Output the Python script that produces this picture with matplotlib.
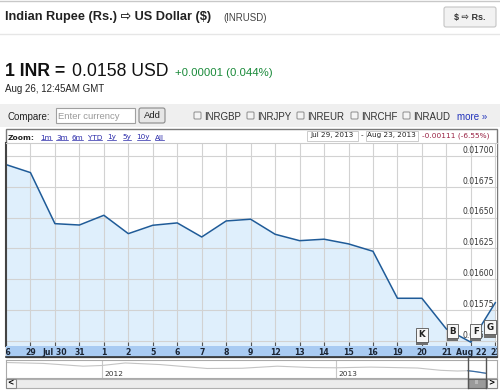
import numpy as np
import matplotlib
matplotlib.use('Agg')
import matplotlib.pyplot as plt
from matplotlib.patches import Rectangle, FancyBboxPatch
from matplotlib import patheffects

# INR -> USD daily closes, Jul 26 .. Aug 23 2013
dates = ['26', '29', 'Jul 30', '31', '1', '2', '5', '6', '7', '8', '9',
         '12', '13', '14', '15', '16', '19', '20', '21', 'Aug 22', '23']
rates = [0.01693, 0.016865, 0.016451, 0.01644, 0.016519, 0.01637, 0.016438,
         0.016457, 0.016343, 0.016473, 0.016487, 0.016365, 0.016313, 0.016325,
         0.016287, 0.016227, 0.015846, 0.015846, 0.015597, 0.01549, 0.01581]
yticks = [0.0155, 0.01575, 0.016, 0.01625, 0.0165, 0.01675, 0.017]

# news flags
flag_letters = ['K', 'B', 'F', 'G']
flag_x = [17.0, 18.25, 19.2, 19.8]
flag_y = [0.01555, 0.01558, 0.01558, 0.01561]

# long range navigator (rough)
nav_years = [2011.59, 2011.75, 2011.92, 2012.0, 2012.1, 2012.25, 2012.45, 2012.6,
             2012.75, 2012.9, 2013.0, 2013.15, 2013.35, 2013.45, 2013.52, 2013.566,
             2013.60, 2013.643]
nav_rates = [0.0205, 0.0201, 0.0189, 0.0192, 0.0203, 0.0196, 0.0179, 0.0180,
             0.0189, 0.0183, 0.0182, 0.0185, 0.0181, 0.0171, 0.0168, 0.01693,
             0.0165, 0.01581]

compare_syms = ['INRGBP', 'INRJPY', 'INREUR', 'INRCHF', 'INRAUD']
zoom_links = ['1m', '3m', '6m', 'YTD', '1y', '5y', '10y', 'All']

W, H = 500, 391
fig = plt.figure(figsize=(W / 100, H / 100), dpi=100)
fig.patch.set_facecolor('white')

PAGE = ['Liberation Sans', 'DejaVu Sans']
CH = 'DejaVu Sans'

# page chrome, drawn in pixel coords
bg = fig.add_axes([0, 0, 1, 1])
bg.set_xlim(0, W)
bg.set_ylim(H, 0)
bg.axis('off')

bg.plot([0, W], [0.5, 0.5], color='#c8c8c8', lw=1)
bg.text(5, 17, 'Indian Rupee (Rs.) \u21e8 US Dollar ($)', family=PAGE, fontsize=9.2,
        weight='bold', color='#222222', va='center')
bg.text(223, 18, '(INRUSD)', family=PAGE, fontsize=7, color='#444444', va='center')
bg.add_patch(FancyBboxPatch((444, 7), 52, 20, boxstyle='round,pad=0,rounding_size=2',
                            fc='#f2f2f2', ec='#c4c4c4', lw=0.8))
bg.text(470, 17.5, '$ \u21e8 Rs.', family=PAGE, fontsize=6.5, weight='bold',
        color='#333333', ha='center', va='center')
bg.plot([0, W], [33.5, 33.5], color='#e6e6e6', lw=1)

bg.text(5, 76, '1 INR =', family=PAGE, fontsize=12.7, weight='bold', color='#111111')
bg.text(72, 76, '0.0158 USD', family=PAGE, fontsize=12.7, color='#111111')
bg.text(175, 76, '+0.00001 (0.044%)', family=PAGE, fontsize=8.2, color='#1a8a3a')
bg.text(5, 92.5, 'Aug 26, 12:45AM GMT', family=PAGE, fontsize=7, color='#222222')

# compare row
bg.add_patch(Rectangle((0, 104), W, 23, fc='#efefef', ec='none'))
bg.text(7, 119.5, 'Compare:', family=PAGE, fontsize=7, color='#222222')
bg.add_patch(Rectangle((56, 108), 79, 15, fc='white', ec='#a0a0a0', lw=0.8))
bg.text(58.5, 119, 'Enter currency', family=PAGE, fontsize=6.8, color='#9a9a9a')
bg.add_patch(FancyBboxPatch((139, 108), 26, 15, boxstyle='round,pad=0,rounding_size=2',
                            fc='#e6e6e6', ec='#8a8a8a', lw=0.8))
bg.text(152, 115.5, 'Add', family=PAGE, fontsize=6.8, color='#222222',
        ha='center', va='center')
box_x = [194, 247, 297, 351, 403]
for bx, sym in zip(box_x, compare_syms):
    bg.add_patch(FancyBboxPatch((bx, 112), 7, 7, boxstyle='round,pad=0,rounding_size=1',
                                fc='#f4f4f4', ec='#8c8c8c', lw=0.7))
    bg.text(bx + 10, 119.5, sym, family=PAGE, fontsize=7, color='#333333')
bg.text(457, 119.5, 'more \u00bb', family=PAGE, fontsize=7, color='#2233bb')

# chart frame + zoom row
bg.add_patch(Rectangle((5.5, 128.5), 491, 228.5, fc='white', ec='#7a7a7a', lw=1))
bg.text(7.5, 137.5, 'Zoom:', family=CH, fontsize=5.4, weight='bold', color='#222222',
        va='center')
link_x = [40.5, 56, 71.5, 87.5, 107, 122.5, 136.5, 155]
links = []
for lx, lab in zip(link_x, zoom_links):
    links.append(bg.text(lx, 137.5, lab, family=CH, fontsize=5.2, color='#2a2aaa',
                         va='center'))
bg.add_patch(Rectangle((306.5, 130.5), 51, 10, fc='white', ec='#cccccc', lw=0.7))
bg.text(332, 135.5, 'Jul 29, 2013', family=CH, fontsize=5.2, color='#222222',
        ha='center', va='center')
bg.text(361.5, 135.5, '-', family=CH, fontsize=5.2, color='#222222', ha='center',
        va='center')
bg.add_patch(Rectangle((365.5, 130.5), 52, 10, fc='white', ec='#cccccc', lw=0.7))
bg.text(391.5, 135.5, 'Aug 23, 2013', family=CH, fontsize=5.2, color='#222222',
        ha='center', va='center')
bg.text(422, 135.5, '-0.00111 (-6.55%)', family=CH, fontsize=5.3, color='#992244',
        va='center')

# main price chart
x = np.arange(len(rates))
xmax = 20.07
ylo, yhi = 0.015459, 0.017105
ax = fig.add_axes([6 / W, 1 - 346 / H, 491 / W, 203 / H])
ax.fill_between(x, rates, ylo - 0.001, color='#dfeffc', lw=0)
ax.plot(x, rates, color='#1f5b98', lw=1.1)
ax.set_xlim(0, xmax)
ax.set_ylim(ylo, yhi)
ax.set_xticks(x)
ax.set_yticks(yticks)
ax.grid(True, color='#d2d2d2', lw=0.8)
ax.tick_params(axis='x', direction='in', length=3, width=0.8, color='#555555',
               labelbottom=False)
ax.tick_params(axis='y', length=0, labelleft=False)
ax.spines['left'].set_color('#444444')
ax.spines['left'].set_linewidth(1.5)
ax.spines['top'].set_color('#cccccc')
ax.spines['top'].set_linewidth(0.8)
ax.spines['right'].set_visible(False)
ax.spines['bottom'].set_visible(False)
for v in yticks:
    ax.text(0.993, v + 0.00001, f'{v:.5f}', transform=ax.get_yaxis_transform(),
            ha='right', va='bottom', family=CH, fontsize=5.5, color='#333333')

for fx, fy, letter in zip(flag_x, flag_y, flag_letters):
    t = ax.text(fx, fy, letter, ha='center', va='center', family=CH, fontsize=6.3,
                weight='bold', color='#222222', zorder=5,
                bbox=dict(boxstyle='square,pad=0.28', fc='#f6f6f6', ec='#555555', lw=0.6))
    t.get_bbox_patch().set_path_effects([
        patheffects.SimplePatchShadow(offset=(0, -2.5), shadow_rgbFace='#707070', alpha=1),
        patheffects.Normal()])

# date band
band = fig.add_axes([6 / W, 1 - 357 / H, 491 / W, 11 / H])
band.set_facecolor('#a9cbf2')
band.set_xlim(0, xmax)
band.set_ylim(0, 1)
band.set_xticks([])
band.set_yticks([])
for s in ['top', 'left', 'right']:
    band.spines[s].set_visible(False)
band.spines['bottom'].set_color('#333333')
band.spines['bottom'].set_linewidth(1.2)
for i, d in enumerate(dates):
    band.text(i, 0.45, d, ha='center', va='center', family=CH, fontsize=5.6,
              weight='bold', color='#1a2433', clip_on=True)

# navigator
nav = fig.add_axes([6 / W, 1 - 378 / H, 491 / W, 18 / H])
nav.set_xlim(2011.59, 2013.69)
nav.set_ylim(0.01376, 0.02159)
nav.set_xticks([])
nav.set_yticks([])
for s in nav.spines.values():
    s.set_color('#aaaaaa')
    s.set_linewidth(0.8)
for yr in [2012, 2013]:
    nav.axvline(yr, color='#c8c8c8', lw=0.8)
    nav.text(yr + 0.012, 0.25, str(yr), transform=nav.get_xaxis_transform(),
             family=CH, fontsize=5.3, color='#333333', va='center')
ny = np.array(nav_years)
nr = np.array(nav_rates)
nav.plot(ny, nr, color='#c4c4c4', lw=0.8)
sel = ny >= 2013.566
nav.plot(ny[sel], nr[sel], color='#3a6ea8', lw=0.9)

# overlay: scrollbar and selection window
ov = fig.add_axes([0, 0, 1, 1])
ov.set_xlim(0, W)
ov.set_ylim(H, 0)
ov.axis('off')
ov.add_patch(Rectangle((5.5, 378.5), 491, 9, fc='#ececec', ec='#b0b0b0', lw=0.8))
ov.add_patch(Rectangle((5.5, 378.5), 10, 9, fc='#f4f4f4', ec='#888888', lw=0.8))
ov.text(10.5, 383, '<', family=CH, fontsize=5.5, weight='bold', ha='center', va='center')
ov.add_patch(Rectangle((486.5, 378.5), 10, 9, fc='#f4f4f4', ec='#888888', lw=0.8))
ov.text(491.5, 383, '>', family=CH, fontsize=5.5, weight='bold', ha='center', va='center')
ov.add_patch(Rectangle((468, 378.5), 18, 9, fc='#9a9a9a', ec='#666666', lw=0.8))
ov.text(477, 383, 'III', family=CH, fontsize=3.5, color='#dddddd', ha='center', va='center')
for sx in [468, 486]:
    ov.plot([sx, sx], [357.5, 388], color='#555555', lw=1)

# underline the zoom links
fig.canvas.draw()
inv = bg.transData.inverted()
for t in links:
    bb = t.get_window_extent()
    (x0, y0), (x1, _) = inv.transform([[bb.x0, bb.y0], [bb.x1, bb.y1]])
    bg.plot([x0, x1], [y0 - 0.5, y0 - 0.5], color='#2a2aaa', lw=0.5)

fig.savefig('out.png', dpi=100, facecolor='white')
